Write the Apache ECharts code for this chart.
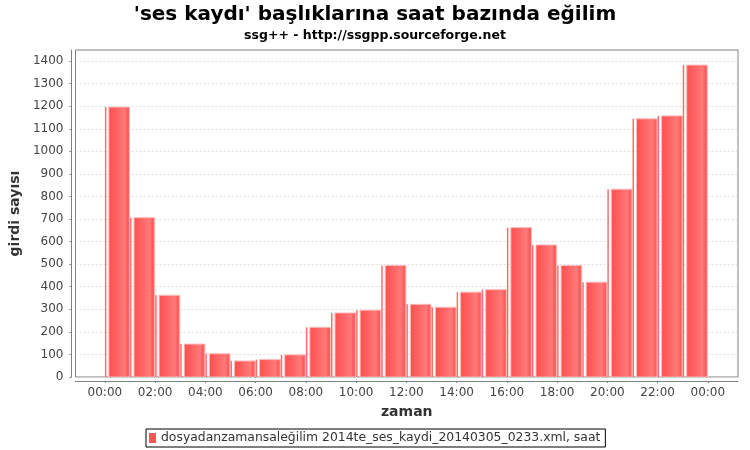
<!DOCTYPE html>
<html><head><meta charset="utf-8">
<script src="https://cdn.jsdelivr.net/npm/echarts@6/dist/echarts.min.js"></script>
<style>html,body{margin:0;padding:0;background:#fff}#c{width:750px;height:450px}</style>
</head><body><div id="c"></div>
<script>
const titleText = "'ses kaydı' başlıklarına saat bazında eğilim";
const subtitleText = "ssg++ - http://ssgpp.sourceforge.net";
const seriesName = "dosyadanzamansaleğilim 2014te_ses_kaydi_20140305_0233.xml, saat";
const hours = [0,1,2,3,4,5,6,7,8,9,10,11,12,13,14,15,16,17,18,19,20,21,22,23];
const counts = [1196,706,362,146,103,71,77,98,220,284,296,494,322,309,376,387,662,585,494,420,832,1144,1157,1382];
const xTicks = [0,2,4,6,8,10,12,14,16,18,20,22,24];
const yTicks = [0,100,200,300,400,500,600,700,800,900,1000,1100,1200,1300,1400];

const chart = echarts.init(document.getElementById('c'), null, {renderer:'canvas'});
const font = "'DejaVu Sans', sans-serif";
const data = hours.map((h,i)=>[h, counts[i]]);
const grad = new echarts.graphic.LinearGradient(0,0,1,0,[
  {offset:0,color:'#ff4e4e'},{offset:0.4,color:'#ff6464'},{offset:0.75,color:'#ff7a7a'},
  {offset:0.88,color:'#ff5c5c'},{offset:1,color:'#ff6a6a'}]);
chart.setOption({
  animation:false,
  title:[
    {text:titleText,left:'center',top:0,textStyle:{fontFamily:font,fontWeight:'bold',fontSize:20,color:'#000'}},
    {text:subtitleText,left:'center',top:24,textStyle:{fontFamily:font,fontWeight:'bold',fontSize:12.5,color:'#000'}}
  ],
  legend:{show:true,bottom:3,left:146,data:[{name:seriesName,icon:'rect'}],itemWidth:7,itemHeight:10,itemGap:4,
    borderColor:'#000',borderWidth:1,padding:[3,5,3,3],borderRadius:0,
    textStyle:{fontFamily:font,fontSize:12.4,color:'#333'}},
  grid:{left:75.5,right:12,top:50,bottom:73,show:true,borderColor:'#808080',borderWidth:1,backgroundColor:'#fff'},
  xAxis:{type:'value',min:-1.17,max:25.2,name:'zaman',nameLocation:'middle',nameGap:24,
    nameTextStyle:{fontFamily:font,fontWeight:'bold',fontSize:14,color:'#333'},
    offset:4,
    axisLine:{show:true,onZero:false,lineStyle:{color:'#808080'}},
    axisTick:{show:true,length:2,customValues:xTicks,lineStyle:{color:'#808080'}},
    axisLabel:{customValues:xTicks,fontFamily:font,fontSize:12,color:'#444',margin:6,
      formatter:v=>{const h=((v%24)+24)%24;return (h<10?'0':'')+h+':00';}},
    splitLine:{show:false}},
  yAxis:{type:'value',min:0,max:1449,name:'girdi sayısı',nameLocation:'middle',nameGap:42,
    nameTextStyle:{fontFamily:font,fontWeight:'bold',fontSize:14,color:'#333'},
    offset:4,
    axisLine:{show:true,onZero:false,lineStyle:{color:'#808080'}},
    axisTick:{show:true,length:2,customValues:yTicks,lineStyle:{color:'#808080'}},
    axisLabel:{customValues:yTicks,fontFamily:font,fontSize:12,color:'#444',margin:8,formatter:v=>String(v)},
    splitLine:{show:true,lineStyle:{color:'#dcdcdc',type:[2,2]}}},
  series:[{type:'custom',name:seriesName,data:data,clip:true,itemStyle:{color:'#ff5555'},
    renderItem:(params,api)=>{
      const x0=api.value(0), v=api.value(1);
      const p0=api.coord([x0,v]), p1=api.coord([x0+1,0]);
      const left=p0[0], right=p1[0], top=p0[1], bottom=p1[1];
      return {type:'group',children:[
        {type:'rect',shape:{x:left,y:top,width:1.5,height:bottom-top},style:{fill:'#ff6e6e'}},
        {type:'rect',shape:{x:left+4,y:top,width:right-left-4.5,height:bottom-top},
          style:{fill:grad,stroke:'#ffb8b8',lineWidth:1}}
      ]};
    }}]
});
</script></body></html>
